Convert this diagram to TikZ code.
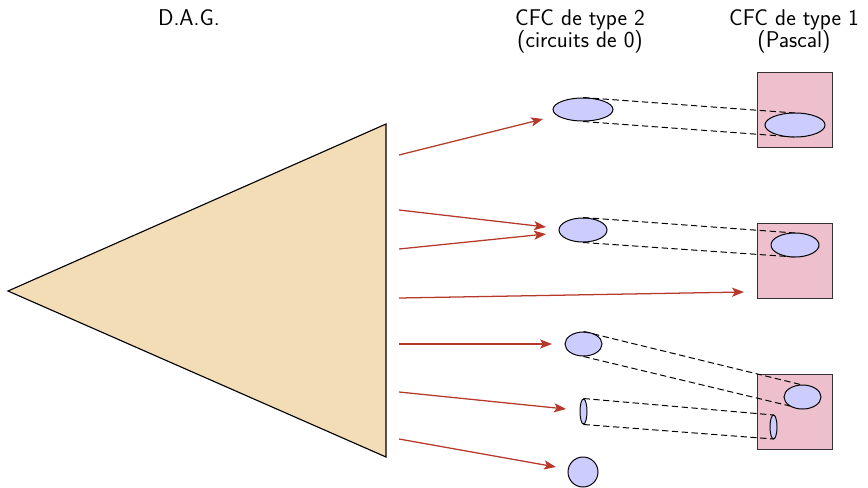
\documentclass[tikz,border=0pt]{standalone}
\usetikzlibrary{shapes.geometric,arrows.meta}
\definecolor{dagfill}{HTML}{F3DDB7}
\definecolor{boxfill}{HTML}{EEBFCC}
\definecolor{ellfill}{HTML}{CCCCFF}
\definecolor{arrred}{HTML}{B5382A}
\begin{document}
\begin{tikzpicture}[x=0.025cm,y=-0.025cm,
  lbl/.style={font=\sffamily\fontsize{16.2}{19}\selectfont, anchor=base, inner sep=0pt},
  cfc/.style={draw=black, line width=0.7pt, fill=ellfill, ellipse, inner sep=0pt},
  pbox/.style={draw=black!80, line width=0.7pt, fill=boxfill, rectangle, inner sep=0pt, minimum width=1.875cm, minimum height=1.875cm},
  link/.style={draw=black, line width=0.7pt, dash pattern={on 4.5pt off 2.5pt}},
  edge/.style={draw=arrred, line width=0.9pt, -{Stealth[length=8.5pt,width=6.5pt,inset=2pt]}}]
\useasboundingbox (0,0) rectangle (868,487);
% titles
\node[lbl] (tdag) at (189,25.5) {D.A.G.};
\node[lbl] (t2a) at (580,25) {CFC de type 2};
\node[lbl] (t2b) at (580,47) {(circuits de 0)};
\node[lbl] (t1a) at (794,25) {CFC de type 1};
\node[lbl] (t1b) at (794,47) {(Pascal)};
% DAG triangle
\coordinate (dl) at (8,291);
\coordinate (dt) at (386,124);
\coordinate (db) at (386,457);
\draw[fill=dagfill, line width=0.8pt, line join=miter] (dl) -- (dt) -- (db) -- cycle;
% Pascal boxes
\node[pbox] (b1) at (794.5,109.5) {};
\node[pbox] (b2) at (794.5,260.5) {};
\node[pbox] (b3) at (794.5,411.5) {};
% type 2 components
\node[cfc, minimum width=1.5cm, minimum height=0.575cm] (e1) at (583,109.5) {};
\node[cfc, minimum width=1.2cm, minimum height=0.6cm] (e2) at (583,230) {};
\node[cfc, minimum width=0.925cm, minimum height=0.6cm] (e3) at (583.5,344) {};
\node[cfc, minimum width=0.175cm, minimum height=0.625cm] (e4) at (583.5,411.5) {};
\node[cfc, circle, minimum size=0.75cm] (e5) at (583,472) {};
% dashed links
\coordinate (f1n) at (795,113);
\coordinate (f1s) at (795,137);
\coordinate (f2n) at (795,233);
\coordinate (f2s) at (795,257);
\coordinate (f3n) at (802.5,385);
\coordinate (f3s) at (802.5,409);
\coordinate (f4n) at (773.5,415);
\coordinate (f4s) at (773.5,439);
\draw[link] (e1.north) -- (f1n);
\draw[link] (e1.south) -- (f1s);
\draw[link] (e2.north) -- (f2n);
\draw[link] (e2.south) -- (f2s);
\draw[link] (e3.north) -- (f3n);
\draw[link] (e3.south) -- (f3s);
\draw[link] (e4.north) -- (f4n);
\draw[link] (e4.south) -- (f4s);
% type 1 components inside boxes
\node[cfc, minimum width=1.5cm, minimum height=0.6cm] (f1) at (795,125) {};
\node[cfc, minimum width=1.2cm, minimum height=0.6cm] (f2) at (795,245) {};
\node[cfc, minimum width=0.925cm, minimum height=0.6cm] (f3) at (802.5,397) {};
\node[cfc, minimum width=0.175cm, minimum height=0.6cm] (f4) at (773.5,427) {};
% arrows
\coordinate (s1) at (399,155);
\coordinate (s2) at (399,210);
\coordinate (s3) at (399,249);
\coordinate (s4) at (399,298);
\coordinate (s5) at (399,344);
\coordinate (s6) at (399,392);
\coordinate (s7) at (399,439);
\coordinate (a1) at (543,119);
\coordinate (a2) at (546,227);
\coordinate (a3) at (546,234);
\coordinate (a4) at (744,292);
\coordinate (a5) at (552,344);
\coordinate (a6) at (566,409);
\coordinate (a7) at (556,467);
\draw[edge] (s1) -- (a1);
\draw[edge] (s2) -- (a2);
\draw[edge] (s3) -- (a3);
\draw[edge] (s4) -- (a4);
\draw[edge] (s5) -- (a5);
\draw[edge] (s6) -- (a6);
\draw[edge] (s7) -- (a7);
\end{tikzpicture}
\end{document}
